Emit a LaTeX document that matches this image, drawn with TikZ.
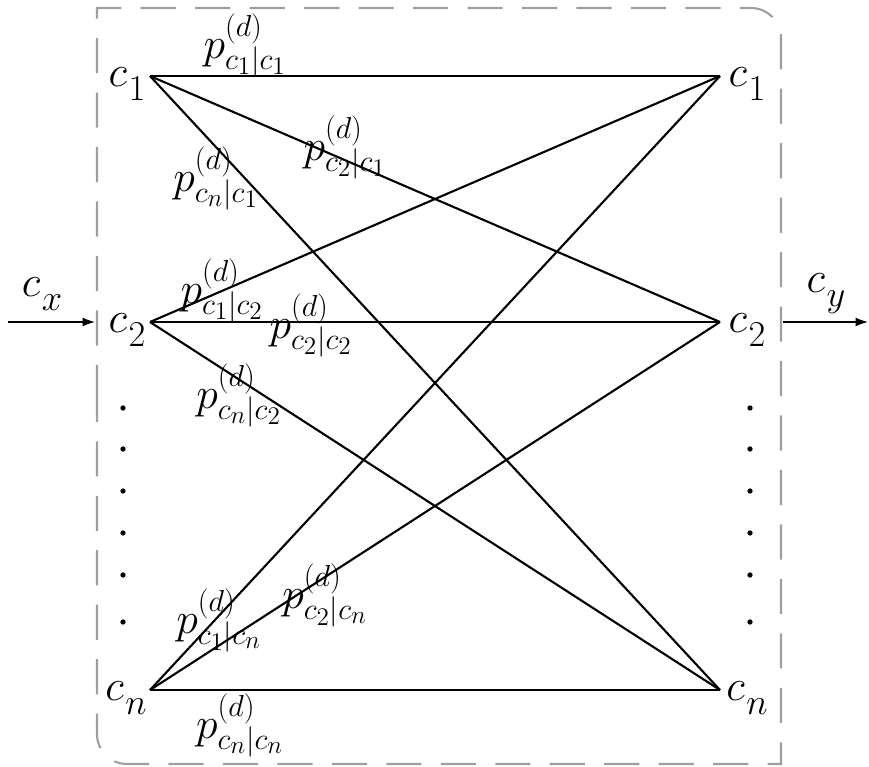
\documentclass[tikz,border=0pt]{standalone}
\usetikzlibrary{arrows.meta}

\newcommand{\pcond}[2]{$p^{(d)}_{c_{#1}|c_{#2}}$}
\newcommand{\cvar}[1]{$c$\kern1pt\raisebox{-8pt}{\fontsize{20}{24}\selectfont$#1$}}

\tikzset{
  box/.style={draw=gray!75, line width=1.2pt, dash pattern=on 20pt off 11pt},
  link/.style={line width=1.2pt},
  io/.style={line width=0.7pt, -{Latex[length=7pt,width=5pt]}},
  cname/.style={font=\fontsize{26}{30}\selectfont, inner sep=0pt},
  plab/.style={font=\fontsize{27}{32}\selectfont, inner sep=0pt},
  dot/.style={circle, fill=black, inner sep=0pt, minimum size=3pt}
}

\begin{document}
\begin{tikzpicture}[x=0.02cm, y=-0.02cm]
  \useasboundingbox (0,0) rectangle (869,767);

  % frame
  \draw[box] (97,400) -- (97,8) -- (751,8) arc[start angle=90, end angle=0, radius=0.6cm]
    -- (781,764) -- (127,764) arc[start angle=270, end angle=180, radius=0.6cm] -- cycle;

  % end points
  \coordinate (l1) at (150,76);
  \coordinate (l2) at (150,322);
  \coordinate (ln) at (150,690);
  \coordinate (r1) at (720,76);
  \coordinate (r2) at (720,322);
  \coordinate (rn) at (720,690);

  \node[cname] (cl1) at (127,84)  {\cvar{1}};
  \node[cname] (cl2) at (127,330) {\cvar{2}};
  \node[cname] (cln) at (126,698) {\cvar{n}};
  \node[cname] (cr1) at (747,84)  {\cvar{1}};
  \node[cname] (cr2) at (747,330) {\cvar{2}};
  \node[cname] (crn) at (747,698) {\cvar{n}};

  \foreach \y [count=\i] in {408,449,491,533,575,622} {
    \node[dot] (ld\i) at (123,\y) {};
    \node[dot] (rd\i) at (750,\y) {};
  }

  % transitions
  \draw[link] (l1) -- (r1);
  \draw[link] (l1) -- (r2);
  \draw[link] (l1) -- (rn);
  \draw[link] (l2) -- (r1);
  \draw[link] (l2) -- (r2);
  \draw[link] (l2) -- (rn);
  \draw[link] (ln) -- (r1);
  \draw[link] (ln) -- (r2);
  \draw[link] (ln) -- (rn);

  \node[plab] (p11) at (245,45)  {\pcond{1}{1}};
  \node[plab] (p21) at (345,147) {\pcond{2}{1}};
  \node[plab] (pn1) at (216,178) {\pcond{n}{1}};
  \node[plab] (p12) at (222,290) {\pcond{1}{2}};
  \node[plab] (p22) at (311,325) {\pcond{2}{2}};
  \node[plab] (pn2) at (239,395) {\pcond{n}{2}};
  \node[plab] (p1n) at (219,620) {\pcond{1}{n}};
  \node[plab] (p2n) at (325,595) {\pcond{2}{n}};
  \node[plab] (pnn) at (240,725) {\pcond{n}{n}};

  % input and output
  \coordinate (xa) at (8,322);
  \coordinate (xb) at (95,322);
  \coordinate (ya) at (783,322);
  \coordinate (yb) at (868,322);
  \draw[io] (xa) -- (xb);
  \draw[io] (ya) -- (yb);
  \node[cname] (cx) at (42,294)  {\cvar{x}};
  \node[cname] (cy) at (826,294) {\cvar{y}};
\end{tikzpicture}
\end{document}
